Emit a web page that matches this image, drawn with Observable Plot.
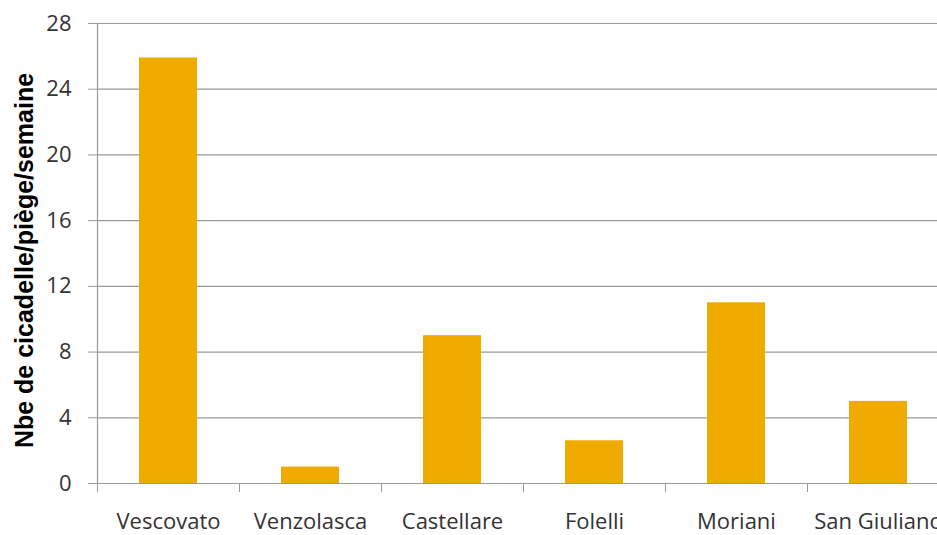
<!DOCTYPE html>
<html>
<head>
<meta charset="utf-8">
<script src="https://cdn.jsdelivr.net/npm/d3@7"></script>
<script src="https://cdn.jsdelivr.net/npm/@observablehq/plot@0.6"></script>
<style>
  html, body { margin: 0; padding: 0; background: #fff; overflow: hidden; }
  #chart svg { overflow: visible; }
</style>
</head>
<body>
<div id="chart"></div>
<script>
const sites = ["Vescovato", "Venzolasca", "Castellare", "Folelli", "Moriani", "San Giuliano"];
const values = [25.9, 1, 9, 2.6, 11, 5];
const yTicks = [0, 4, 8, 12, 16, 20, 24, 28];
const yLabel = "Nbe de cicadelle/piège/semaine";

const data = sites.map((s, i) => ({site: s, value: values[i]}));

const step = (949 - 97) / sites.length;

const chart = Plot.plot({
  width: 937,
  height: 535,
  marginLeft: 97,
  marginRight: 0,
  marginTop: 23,
  marginBottom: 52,
  style: {background: "#fff", overflow: "visible"},
  x: {domain: sites, range: [97, 949], paddingInner: 0.59, paddingOuter: 0.295, label: null},
  y: {domain: [0, 28], label: null},
  marks: [
    Plot.gridY(yTicks, {stroke: "#999", strokeOpacity: 1, strokeWidth: 1.2}),
    Plot.barY(data, {x: "site", y: "value", fill: "#F0AB00"}),
    Plot.ruleY([0], {stroke: "#999", strokeWidth: 1.2}),
    Plot.frame({anchor: "left", stroke: "#999", strokeWidth: 1.2}),
    Plot.axisY({ticks: yTicks, tickSize: 9, tickPadding: 17, stroke: "#999", fontSize: 22, fill: "#333", fontFamily: "Open Sans", label: null}),
    Plot.axisX({tickSize: 9, dx: -step / 2, text: null, stroke: "#999", label: null}),
    Plot.axisX({tickSize: 0, tickPadding: 30, fontSize: 22, fill: "#333", fontFamily: "Open Sans", label: null}),
    Plot.text([yLabel], {frameAnchor: "left", rotate: -90, dx: -73, dy: 7, textAnchor: "middle", fontWeight: "bold", fontSize: 25, fontFamily: "Liberation Sans", fill: "#000", lineAnchor: "middle"})
  ]
});
document.getElementById("chart").appendChild(chart);
</script>
</body>
</html>
